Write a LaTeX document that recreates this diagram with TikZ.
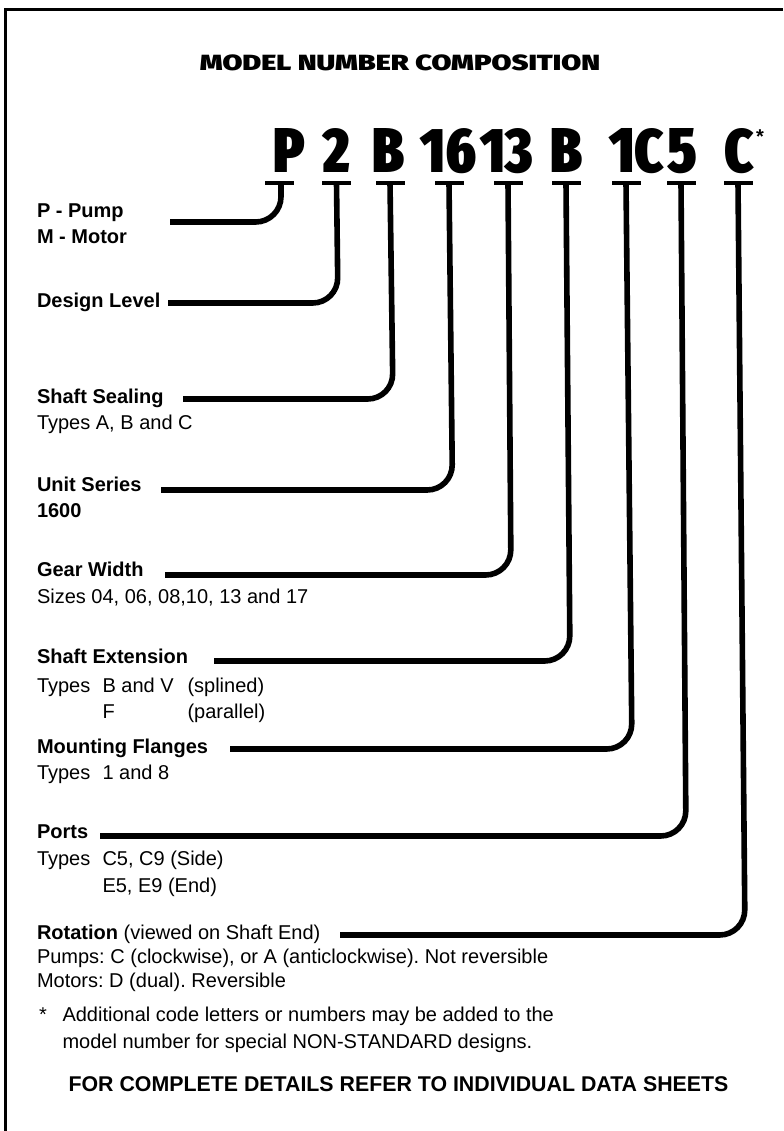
\documentclass[tikz,border=0pt]{standalone}
\usepackage{fontspec}
\usepackage{graphicx}
\setmainfont{Liberation Sans}
\IfFontExistsTF{Fira Sans Extra Condensed Black}
  {\newfontfamily\blackfam{Fira Sans Extra Condensed Black}\newcommand{\blk}{\blackfam}\newcommand{\mscale}{0.97}}
  {\IfFontExistsTF{Fira Sans Condensed Black}
    {\newfontfamily\blackfam{Fira Sans Condensed Black}\newcommand{\blk}{\blackfam}\newcommand{\mscale}{0.85}}
    {\IfFontExistsTF{Fira Sans Black}
      {\newfontfamily\blackfam{Fira Sans Black}\newcommand{\blk}{\blackfam}\newcommand{\mscale}{0.75}}
      {\IfFontExistsTF{Lato Black}
        {\newfontfamily\blackfam{Lato Black}\newcommand{\blk}{\blackfam}\newcommand{\mscale}{0.8}}
        {\newfontfamily\blackfam{Liberation Sans}\newcommand{\blk}{\blackfam\bfseries}\newcommand{\mscale}{0.75}}}}}
\IfFontExistsTF{Fira Sans Black}
  {\newfontfamily\titlefam{Fira Sans Black}\newcommand{\tblk}{\titlefam}}
  {\IfFontExistsTF{Lato Black}
    {\newfontfamily\titlefam{Lato Black}\newcommand{\tblk}{\titlefam}}
    {\newfontfamily\titlefam{Liberation Sans}\newcommand{\tblk}{\titlefam\bfseries}}}
\newcommand{\mch}[1]{\scalebox{\mscale}[1]{\resizebox{!}{33pt}{#1}}}
\frenchspacing
\begin{document}
\begin{tikzpicture}[x=0.75pt,y=-0.75pt,
  txt/.style={anchor=base west,inner sep=0pt,outer sep=0pt,font=\fontsize{15}{18}\selectfont},
  btxt/.style={txt,font=\fontsize{15}{18}\selectfont\bfseries},
  modelch/.style={anchor=base,inner sep=0pt,font=\blk\fontsize{47}{50}\selectfont},
  tbar/.style={fill=black,minimum width=21.75pt,minimum height=3.2pt,inner sep=0pt,outer sep=0pt},
  conn/.style={line width=4.2pt,rounded corners=19pt},
  frame/.style={line width=2.25pt}]
\useasboundingbox (0,0) rectangle (783,1131);
% frame
\draw[frame] (5.5,1131) -- (5.5,9.5) -- (783,9.5);
% title
\node[anchor=base,inner sep=0pt,font=\tblk\fontsize{16.5}{20}\selectfont] (title) at (400,70.7) {\resizebox{300pt}{11.8pt}{MODEL NUMBER COMPOSITION}};
% model number characters
\node[modelch] (mP) at (289,172) {\mch{P}};
\node[modelch] (m2) at (336.5,172) {\mch{2}};
\node[modelch] (mB) at (388,172) {\mch{B}};
\node[modelch] (m16) at (448.5,172) {\mch{16}};
\node[modelch] (m13) at (506.5,172) {\mch{13}};
\node[modelch] (mB2) at (566,172) {\mch{B}};
\node[modelch] (m1) at (622,172) {\mch{1}};
\node[modelch] (mC) at (649,172) {\mch{C}};
\node[modelch] (m5) at (682,172) {\mch{5}};
\node[modelch] (mC2) at (739,172) {\mch{C}};
\node[anchor=base,inner sep=0pt,font=\fontsize{15}{18}\selectfont\bfseries] (mstar) at (760,143) {*};
% T-bars
\node[tbar] (bP) at (279,183) {};
\node[tbar] (b2) at (336.5,183) {};
\node[tbar] (bB) at (390,183) {};
\node[tbar] (b16) at (449,183) {};
\node[tbar] (b13) at (508,183) {};
\node[tbar] (bB2) at (566,183) {};
\node[tbar] (b1) at (626,183) {};
\node[tbar] (bC5) at (681,183) {};
\node[tbar] (bC) at (738,183) {};
% labels
\node[btxt] (lPump) at (37,217) {P - Pump};
\node[btxt] (lMotor) at (37,243) {M - Motor};
\node[btxt] (lDesign) at (37,307) {Design Level};
\node[btxt] (lSeal) at (37,403) {Shaft Sealing};
\node[txt] (lSealT) at (37,429) {Types A, B and C};
\node[btxt] (lUnit) at (37,491) {Unit Series};
\node[btxt] (lUnitN) at (37,517) {1600};
\node[btxt] (lGear) at (37,576) {Gear Width};
\node[txt] (lGearS) at (37,603) {Sizes 04, 06, 08,10, 13 and 17};
\node[btxt] (lExt) at (37,663) {Shaft Extension};
\node[txt] (lExtT) at (37,692) {Types};
\node[txt] (lExtA) at (102.5,692) {B and V};
\node[txt] (lExtB) at (187.5,692) {(splined)};
\node[txt] (lExtC) at (102.5,718) {F};
\node[txt] (lExtD) at (187.5,718) {(parallel)};
\node[btxt] (lMount) at (37,753) {Mounting Flanges};
\node[txt] (lMountT) at (37,779) {Types};
\node[txt] (lMountA) at (102.5,779) {1 and 8};
\node[btxt] (lPorts) at (37,838) {Ports};
\node[txt] (lPortsT) at (37,865) {Types};
\node[txt] (lPortsA) at (102.5,865) {C5, C9 (Side)};
\node[txt] (lPortsB) at (102.5,892) {E5, E9 (End)};
\node[txt] (lRot) at (37,939) {\textbf{Rotation} (viewed on Shaft End)};
\node[txt] (lRotA) at (37,963) {Pumps: C (clockwise), or A (anticlockwise). Not reversible};
\node[txt] (lRotB) at (37,987) {Motors: D (dual). Reversible};
\node[txt] (nStar) at (39,1021) {*};
\node[txt] (nNote1) at (62.5,1021) {Additional code letters or numbers may be added to the};
\node[txt] (nNote2) at (62.5,1048) {model number for special NON-STANDARD designs.};
\node[anchor=base,inner sep=0pt,font=\fontsize{16}{19}\selectfont\bfseries] (footer) at (398.5,1091) {FOR COMPLETE DETAILS REFER TO INDIVIDUAL DATA SHEETS};
% connector corners and ends
\coordinate (kP) at (281,222);   \coordinate (eP) at (170,222);
\coordinate (k2) at (338,303);   \coordinate (e2) at (168,303);
\coordinate (kB) at (393,399);   \coordinate (eB) at (183,399);
\coordinate (k16) at (452.5,490);  \coordinate (e16) at (161,490);
\coordinate (k13) at (511,575);  \coordinate (e13) at (165,575);
\coordinate (kB2) at (570,661);  \coordinate (eB2) at (214,661);
\coordinate (k1) at (632,749);   \coordinate (e1) at (230,749);
\coordinate (kC5) at (686,836);  \coordinate (eC5) at (100,836);
\coordinate (kC) at (745,935);   \coordinate (eC) at (340,935);
% connectors
\draw[conn] ([xshift=1.5pt]bP.center) -- (kP) -- (eP);
\draw[conn] (b2.center) -- (k2) -- (e2);
\draw[conn] (bB.center) -- (kB) -- (eB);
\draw[conn] (b16.center) -- (k16) -- (e16);
\draw[conn] (b13.center) -- (k13) -- (e13);
\draw[conn] (bB2.center) -- (kB2) -- (eB2);
\draw[conn] (b1.center) -- (k1) -- (e1);
\draw[conn] (bC5.center) -- (kC5) -- (eC5);
\draw[conn] (bC.center) -- (kC) -- (eC);
\end{tikzpicture}
\end{document}
